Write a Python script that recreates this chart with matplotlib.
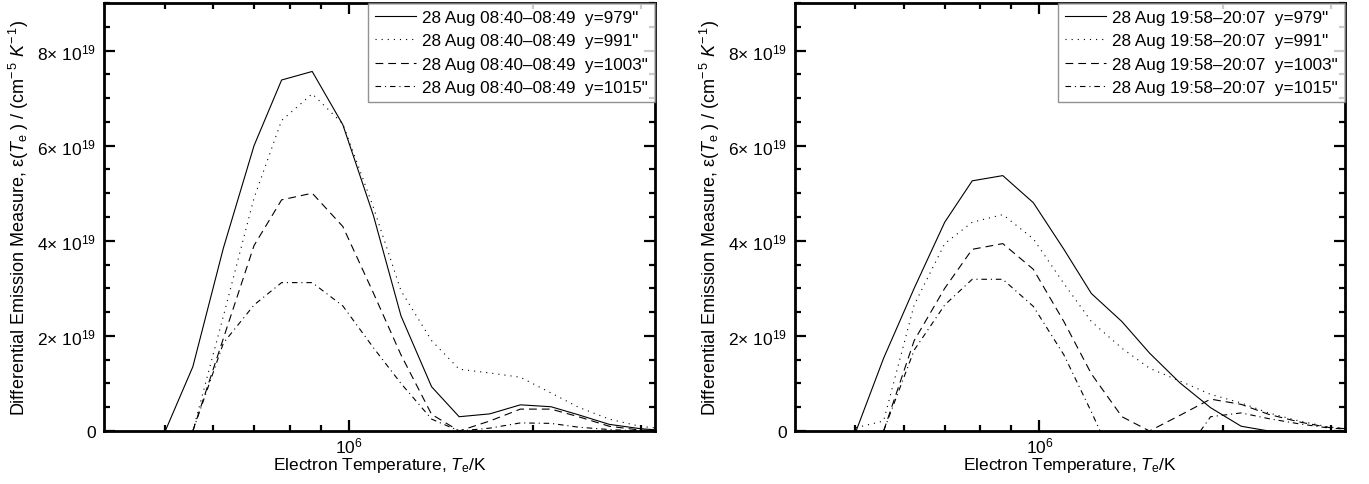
import numpy as np
import matplotlib
matplotlib.use("Agg")
from matplotlib import pyplot as plt
from matplotlib.ticker import FixedLocator, NullFormatter, FuncFormatter, MultipleLocator

plt.rcParams["font.family"] = ["Liberation Sans", "DejaVu Sans"]
plt.rcParams["mathtext.fontset"] = "custom"
plt.rcParams["mathtext.rm"] = "Liberation Sans"
plt.rcParams["mathtext.it"] = "Liberation Sans:italic"
plt.rcParams["mathtext.bf"] = "Liberation Sans:bold"

# log10 of the electron temperature of each DEM bin
logT = [5.70, 5.745, 5.795, 5.845, 5.89, 5.94, 5.99, 6.04, 6.085, 6.135,
        6.18, 6.23, 6.28, 6.33, 6.375, 6.425, 6.475, 6.525]

# DEM, units of 1e19 cm^-5 K^-1, morning (08:40-08:49)
am_979 = [0.0, 1.35, 3.85, 6.0, 7.38, 7.56, 6.44, 4.53, 2.42, 0.93,
          0.30, 0.36, 0.55, 0.51, 0.34, 0.14, 0.05, 0.0]
am_991 = [None, 0.0, 2.42, 4.9, 6.53, 7.09, 6.46, 4.7, 2.95, 1.9,
          1.30, 1.22, 1.13, 0.80, 0.50, 0.25, 0.10, 0.03]
am_1003 = [None, 0.0, 1.95, 3.9, 4.86, 5.0, 4.3, 2.9, 1.6, 0.35,
           0.0, 0.21, 0.46, 0.46, 0.30, 0.10, 0.02, 0.0]
am_1015 = [None, 0.0, 1.85, 2.65, 3.12, 3.12, 2.63, 1.75, 1.0, 0.25,
           0.0, 0.06, 0.17, 0.16, 0.08, 0.03, 0.0, 0.0]

# DEM, evening (19:58-20:07)
pm_979 = [0.0, 1.53, 3.0, 4.39, 5.26, 5.37, 4.8, 3.82, 2.89, 2.3,
          1.64, 1.01, 0.49, 0.10, 0.0, 0.0, 0.0, 0.0]
pm_991 = [0.07, 0.21, 2.65, 3.94, 4.39, 4.55, 4.04, 3.1, 2.3, 1.74,
          1.32, 1.05, 0.77, 0.59, 0.38, 0.21, 0.08, 0.04]
pm_1003 = [None, 0.0, 1.9, 3.0, 3.82, 3.94, 3.4, 2.3, 1.2, 0.3,
           0.0, 0.33, 0.67, 0.56, 0.35, 0.19, 0.07, 0.03]
pm_1015 = [None, 0.0, 1.7, 2.65, 3.19, 3.19, 2.62, 1.6, 0.4, -1.0,
           -1.2, -0.6, 0.3, 0.38, 0.26, 0.15, 0.06, 0.03]

positions = ['979"', '991"', '1003"', '1015"']
am_time = "28 Aug 08:40\u201308:49"
pm_time = "28 Aug 19:58\u201320:07"

styles = ["-", (0, (1, 4.5)), (0, (7, 4.5)), (0, (5, 3.5, 1, 3.5))]

T = 10 ** np.array(logT)


def ylab(v, pos):
    if abs(v) < 1:
        return "0"
    return "%d\u00d7 10$^{19}$" % round(v / 1e19)


def panel(ax, series, when):
    for vals, pos, ls in zip(series, positions, styles):
        y = np.array([np.nan if v is None else v for v in vals]) * 1e19
        ax.plot(T, y, color="black", lw=0.8, linestyle=ls,
                label="%s  y=%s" % (when, pos))
    ax.set_xscale("log")
    ax.set_xlim(10 ** 5.6, 10 ** 6.5)
    ax.set_ylim(0, 9e19)
    ax.xaxis.set_major_locator(FixedLocator([1e6]))
    ax.xaxis.set_minor_locator(FixedLocator([5e5, 6e5, 7e5, 8e5, 9e5, 2e6, 3e6]))
    ax.xaxis.set_minor_formatter(NullFormatter())
    ax.yaxis.set_major_locator(MultipleLocator(2e19))
    ax.yaxis.set_minor_locator(MultipleLocator(0.5e19))
    ax.yaxis.set_major_formatter(FuncFormatter(ylab))
    ax.tick_params(which="both", direction="in", top=True, right=True,
                   width=1.6, labelsize=12.5)
    ax.tick_params(which="major", length=8)
    ax.tick_params(which="minor", length=4.5)
    ax.tick_params(axis="y", pad=6)
    ax.tick_params(axis="x", pad=3)
    for s in ax.spines.values():
        s.set_linewidth(2)
    ax.set_xlabel("Electron Temperature, $T_{\\rm e}$/K", fontsize=12.5, labelpad=0)
    ax.set_ylabel("Differential Emission Measure, \u03b5($T_{\\rm e}$ ) / "
                  "(cm$^{-\\,5}$ $K^{-\\,1}$)", fontsize=13, labelpad=4)
    leg = ax.legend(loc="upper right", borderaxespad=0, fancybox=False,
                    fontsize=12.3, handlelength=2.4, handletextpad=0.4,
                    labelspacing=0.5, borderpad=0.4)
    leg.get_frame().set_edgecolor("#777777")
    leg.get_frame().set_linewidth(1.0)


fig = plt.figure(figsize=(13.69, 4.85), dpi=100)
ax1 = fig.add_axes([0.0760, 0.1093, 0.4025, 0.8825])
ax2 = fig.add_axes([0.5807, 0.1093, 0.4018, 0.8825])

panel(ax1, [am_979, am_991, am_1003, am_1015], am_time)
panel(ax2, [pm_979, pm_991, pm_1003, pm_1015], pm_time)

fig.savefig("out.png", dpi=100)
